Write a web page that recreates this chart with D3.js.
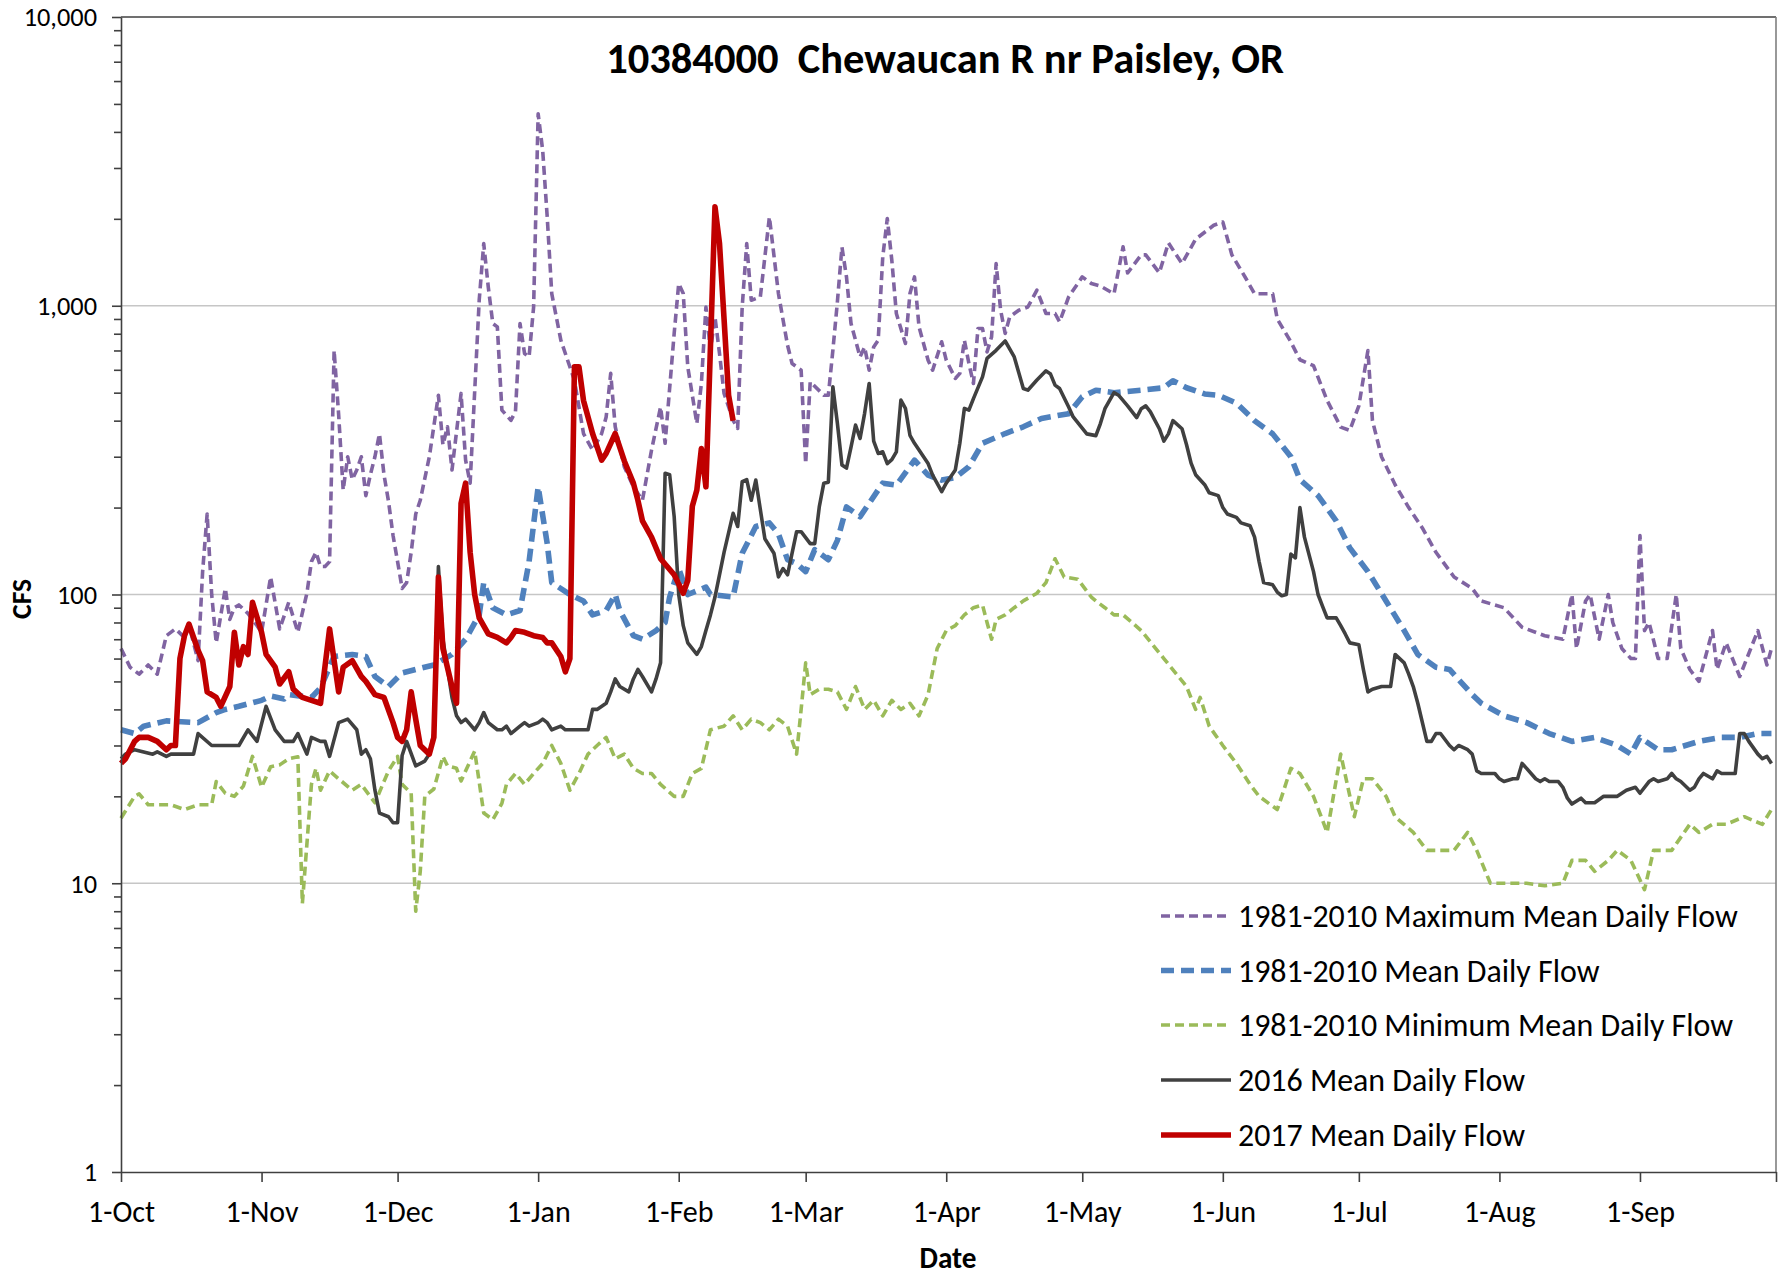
<!DOCTYPE html>
<html>
<head>
<meta charset="utf-8">
<title>10384000 Chewaucan R nr Paisley, OR</title>
<script src="https://cdn.jsdelivr.net/npm/d3@7/dist/d3.min.js"></script>
<style>
  html, body { margin: 0; padding: 0; background: #fff; }
  svg { display: block; }
  text { font-family: Carlito, Calibri, Lato, "Noto Sans", sans-serif; fill: #000; }
</style>
</head>
<body>
<svg id="chart" width="1788" height="1276"></svg>
<script>
// Daily flow, cfs. Each point is [day of water year (0 = 1-Oct), cfs].
const maxMeanDaily = [[0,65],[2,56],[4,53],[6,57],[8,53],[10,72],[12,76],[14,71],[15,78],[16,68],[17,59],[18,120],[19,190],[20,100],[21,68],[23,105],[24,82],[25,90],[26,92],[28,86],[30,78],[31,74],[33,115],[35,76],[37,94],[39,74],[41,101],[42,130],[43,140],[44,125],[45,125],[46,130],[47,700],[48,420],[49,230],[50,300],[51,250],[52,270],[53,300],[54,220],[55,260],[56,300],[57,360],[58,260],[59,210],[60,160],[61,130],[62,105],[63,110],[64,140],[65,190],[66,212],[68,300],[70,490],[71,330],[72,381],[73,270],[75,497],[76,292],[77,243],[79,1045],[80,1641],[81,1161],[82,868],[83,845],[84,435],[86,401],[87,430],[88,868],[89,683],[90,665],[91,990],[92,4624],[93,3451],[94,2030],[95,1102],[97,760],[100,552],[102,361],[104,316],[106,361],[107,412],[108,583],[109,381],[111,277],[113,236],[115,212],[117,316],[119,446],[120,334],[122,802],[123,1194],[124,1102],[125,614],[127,391],[128,538],[129,990],[130,700],[131,915],[132,683],[133,497],[135,401],[136,376],[137,990],[138,1641],[139,1045],[141,1073],[143,2030],[145,1100],[147,730],[148,631],[150,598],[151,284],[152,545],[155,490],[156,490],[157,701],[158,1033],[159,1597],[160,1259],[161,868],[163,665],[164,720],[165,598],[166,720],[167,760],[168,1476],[169,2004],[170,1437],[171,940],[173,740],[174,1102],[175,1259],[176,845],[178,648],[179,598],[181,750],[182,648],[184,560],[185,583],[186,760],[187,631],[188,538],[189,834],[190,834],[191,692],[192,780],[193,1400],[194,965],[195,802],[196,915],[198,965],[200,990],[202,1132],[204,940],[206,940],[207,879],[209,1073],[212,1259],[214,1194],[216,1170],[219,1100],[221,1600],[222,1300],[225,1500],[226,1500],[229,1300],[231,1650],[234,1400],[237,1700],[241,1900],[243,1950],[245,1500],[248,1250],[250,1100],[254,1100],[255,900],[258,750],[260,650],[263,620],[266,470],[269,380],[271,370],[273,450],[275,700],[276,400],[278,300],[281,240],[284,200],[287,170],[290,140],[294,115],[298,105],[300,95],[305,90],[309,77],[314,72],[318,70],[320,100],[321,65],[323,95],[324,100],[326,70],[328,100],[329,80],[331,65],[333,60],[334,60],[335,160],[336,75],[337,80],[339,60],[341,60],[343,100],[344,65],[346,55],[348,50],[351,75],[352,55],[354,68],[357,52],[361,75],[363,57],[364,65]];

const meanDaily = [[0,34],[3,33],[5,35],[10,36.5],[17,36],[21,39],[23,40],[26,41],[31,43],[33,44.5],[36,43.5],[37,45],[42,44],[44,47.5],[47,61],[51,62],[54,61],[56,52],[59,48],[62,53.5],[65,55],[69,57],[73,62],[76,70],[79,85],[80,110],[82,90],[85,85],[88,88],[90,130],[92,236],[94,150],[95,110],[99,100],[102,95],[104,85],[107,88],[109,100],[110,88],[113,72],[115,70],[118,75],[120,80],[121,98],[123,123],[125,100],[129,106],[130,100],[135,98],[137,139],[140,172],[143,177],[145,162],[147,132],[149,128],[151,120],[153,143],[156,132],[158,154],[160,201],[163,186],[168,243],[171,239],[175,292],[178,259],[181,249],[184,254],[187,277],[190,334],[195,361],[199,381],[203,407],[209,423],[212,484],[215,510],[219,500],[225,510],[230,520],[232,550],[235,520],[239,495],[242,490],[246,460],[250,400],[254,360],[258,300],[260,250],[264,220],[268,180],[271,145],[275,120],[279,95],[283,75],[286,62],[290,56],[293,55],[298,45],[300,42],[305,38],[310,36],[315,33],[320,31],[325,32],[330,30],[333,28],[335,32],[339,29],[342,29],[348,31],[353,32],[357,32],[361,33],[364,33]];

const minMeanDaily = [[0,16.8],[3,20],[4,20.4],[6,18.7],[11,18.7],[14,18],[17,18.7],[20,18.7],[21,22.5],[23,20.5],[25,20],[27,21.7],[29,27.5],[31,21.5],[33,25.3],[35,25.7],[37,27],[39,27.4],[40,8.5],[42,22],[43,25],[44,21],[46,24.5],[48,23],[51,21],[53,22],[56,19],[59,24.5],[61,27.5],[62,22],[64,20.5],[65,8],[66,11],[67,20],[69,21.2],[71,27.5],[72,25.5],[74,25],[75,22.6],[78,28.7],[80,17.5],[82,16.6],[84,18.9],[85,22],[87,24],[89,22],[91,24],[93,26],[95,30],[97,26],[99,21],[101,24],[103,28],[105,30],[107,32],[109,27],[111,28],[113,25],[115,24],[117,24],[119,22],[122,20],[124,20],[126,24],[128,25],[130,34],[133,35],[135,38],[137,34],[139,37],[141,36],[143,34],[145,37],[147,35],[149,28],[150,40],[151,58],[152,45],[154,47],[156,47],[158,46],[160,40],[162,48],[164,40],[166,43],[168,38],[170,43],[172,40],[174,42],[176,38],[178,45],[180,65],[182,75],[184,78],[186,85],[188,90],[190,92],[191,80],[192,70],[193,82],[195,85],[197,90],[199,95],[202,101],[204,110],[206,133],[208,115],[211,113],[214,98],[215,95],[217,90],[219,85],[221,85],[223,80],[225,75],[230,60],[235,48],[237,40],[238,44],[240,35],[243,30],[246,26],[249,22],[251,20],[255,18],[256,20],[258,25],[260,24],[263,20],[266,15],[269,28],[272,17],[274,23],[276,23],[279,20],[281,17],[285,15],[288,13],[291,13],[294,13],[297,15],[299,13],[302,10],[305,10],[310,10],[314,9.8],[318,10],[320,12],[323,12],[325,11],[328,12],[330,13],[333,12],[336,9.5],[338,13],[342,13],[346,16],[348,15],[351,16],[354,16],[358,17],[362,16],[364,18]];

const flow2016 = [[0,27],[1,28],[3,29],[5,28.5],[7,28],[8,28.5],[10,27.5],[11,28],[16,28],[17,33],[20,30],[26,30],[28,34],[30,31],[32,41],[34,34],[36,31],[38,31],[39,33],[41,28],[42,32],[44,31],[45,31],[46,27.5],[48,36],[50,37],[52,34],[53,28],[54,29],[55,27],[56,21],[57,17.5],[59,17],[60,16.2],[61,16.2],[62,27.7],[63,31],[65,25.5],[67,26.5],[68,28],[69,33],[70,125],[71,70],[73,44],[74,38],[75,36],[76,37],[78,34],[79,36],[80,39],[81,36],[83,34],[84,34],[85,35],[86,33],[88,35],[89,36],[90,35],[92,36],[93,37],[94,36],[95,34],[97,35],[98,34],[100,34],[103,34],[104,40],[105,40],[107,42],[108,46],[109,51],[110,48],[112,46],[113,51],[114,55],[115,52],[117,46],[118,51],[119,58],[120,263],[121,260],[122,186],[123,100],[124,78],[125,68],[127,62],[128,66],[129,75],[130,85],[131,98],[133,140],[135,191],[136,172],[137,246],[138,250],[139,212],[140,249],[142,156],[144,139],[145,115],[146,123],[147,117],[149,165],[150,165],[152,150],[153,150],[154,201],[155,243],[156,245],[157,524],[158,391],[159,281],[160,274],[161,324],[162,386],[163,347],[164,424],[165,538],[166,340],[167,308],[168,312],[169,284],[170,293],[171,312],[172,471],[173,441],[174,356],[175,334],[178,284],[179,259],[181,227],[182,243],[184,270],[185,334],[186,441],[187,435],[188,477],[190,567],[191,657],[193,701],[195,755],[197,665],[199,517],[200,510],[202,553],[204,595],[205,580],[206,531],[207,517],[209,446],[210,412],[213,360],[215,355],[216,391],[217,440],[219,500],[220,490],[222,450],[224,410],[225,440],[226,450],[227,430],[229,375],[230,340],[231,360],[232,400],[234,375],[235,330],[236,285],[237,260],[239,240],[240,225],[242,220],[243,200],[244,190],[246,185],[247,177],[249,173],[250,158],[251,130],[252,110],[254,108],[255,102],[256,99],[257,100],[258,138],[259,134],[260,200],[261,158],[263,120],[264,100],[265,91],[266,83],[268,83],[269,78],[270,73],[271,68],[273,67],[274,55],[275,46],[276,47],[278,48],[280,48],[281,62],[283,58],[284,53],[285,48],[286,42],[288,31],[289,31],[290,33],[291,33],[293,30],[294,29],[295,30],[297,29],[298,28],[299,24.5],[300,24],[302,24],[303,24],[304,23],[305,22.5],[307,23],[308,23],[309,26],[310,25],[312,23],[313,22.5],[314,23],[315,22.5],[317,22.5],[318,21.5],[319,19.7],[320,18.8],[322,19.7],[323,19],[325,19],[327,20],[330,20],[332,21],[334,21.5],[335,20.5],[337,22.5],[338,23],[339,22.5],[341,23],[342,24],[343,23],[344,22.5],[346,21],[347,21.5],[348,23],[349,24],[351,23],[352,24.5],[353,24],[356,24],[357,33],[358,33],[359,31],[361,28],[362,27],[363,27.5],[364,26]];

const flow2017 = [[0,26],[1,27],[3,31],[4,32],[6,32],[8,31],[10,29],[11,30],[12,30],[13,60],[14,72],[15,79],[17,64],[18,59],[19,46],[21,44],[22,41],[24,48],[25,74],[26,57],[27,66],[28,62],[29,94],[31,74],[32,62],[34,56],[35,49],[37,54],[38,47],[40,44],[42,43],[44,42],[46,76],[48,46],[49,56],[51,59],[53,52],[54,50],[56,45],[58,44],[60,36],[61,32],[62,31],[63,34],[64,46],[65,37],[66,30],[68,28],[69,32],[70,115],[71,65],[73,48],[74,42],[75,207],[76,243],[77,140],[78,100],[79,83],[81,73],[83,71],[85,68],[86,71],[87,75],[89,74],[91,72],[93,71],[94,68],[95,68],[97,61],[98,54],[99,60],[100,614],[101,614],[102,470],[104,361],[106,292],[107,308],[109,361],[111,290],[113,243],[114,212],[115,180],[117,158],[119,133],[122,117],[124,101],[125,112],[126,202],[127,230],[128,320],[129,236],[131,2200],[132,1640],[133,900],[134,490],[135,400]];

const seriesNames = ["1981-2010 Maximum Mean Daily Flow", "1981-2010 Mean Daily Flow", "1981-2010 Minimum Mean Daily Flow", "2016 Mean Daily Flow", "2017 Mean Daily Flow"];
const yTickValues = [1, 10, 100, 1000, 10000];
const monthLabels = ["1-Oct", "1-Nov", "1-Dec", "1-Jan", "1-Feb", "1-Mar", "1-Apr", "1-May", "1-Jun", "1-Jul", "1-Aug", "1-Sep"];
const chartTitle = "10384000  Chewaucan R nr Paisley, OR";

// ---- layout and styles ----
const FONT = 'Carlito, Calibri, Lato, "Noto Sans", sans-serif';
const plot = { left: 121, right: 1776, top: 17, bottom: 1172 };
const styles = [
  { color: "#8064A2", width: 3.6, dash: "9,5" },
  { color: "#4F81BD", width: 5.6, dash: "13,7" },
  { color: "#9BBB59", width: 3.6, dash: "9,5" },
  { color: "#404040", width: 3.6, dash: null },
  { color: "#C00000", width: 5.6, dash: null }
];
const seriesData = [maxMeanDaily, meanDaily, minMeanDaily, flow2016, flow2017];

const svg = d3.select("#chart");

// font size that makes a string span a given width
function sizeFor(str, targetWidth, weight) {
  const t = svg.append("text").attr("font-family", FONT).attr("font-weight", weight || "normal")
    .style("white-space", "pre").attr("font-size", 100).text(str);
  const w = t.node().getComputedTextLength();
  t.remove();
  return 100 * targetWidth / w;
}

const startMs = Date.UTC(2016, 9, 1);
const dayToDate = d => new Date(startMs + d * 864e5);
const x = d3.scaleUtc().domain([dayToDate(0), dayToDate(365)]).range([plot.left, plot.right]);
const y = d3.scaleLog().domain([1, 10000]).range([plot.bottom, plot.top]);

// horizontal gridlines
svg.append("g").selectAll("line").data([10, 100, 1000]).join("line")
  .attr("x1", plot.left).attr("x2", plot.right)
  .attr("y1", d => y(d)).attr("y2", d => y(d))
  .attr("stroke", "#c6c6c6").attr("stroke-width", 1.6);

// frame: top and right edges
svg.append("line").attr("x1", plot.left).attr("x2", plot.right).attr("y1", plot.top).attr("y2", plot.top)
  .attr("stroke", "#404040").attr("stroke-width", 1.6);
svg.append("line").attr("x1", plot.right).attr("x2", plot.right).attr("y1", plot.top).attr("y2", plot.bottom)
  .attr("stroke", "#7f7f7f").attr("stroke-width", 1.6);

// series lines
const line = d3.line().x(d => x(dayToDate(d[0]))).y(d => y(d[1]));
const gLines = svg.append("g");
seriesData.forEach((data, i) => {
  const s = styles[i];
  gLines.append("path").datum(data)
    .attr("d", line)
    .attr("fill", "none")
    .attr("stroke", s.color)
    .attr("stroke-width", s.width)
    .attr("stroke-linejoin", "round")
    .attr("stroke-dasharray", s.dash);
});

// y axis with major and minor ticks
const yLabelSize = sizeFor("1,000", 60);
const yAxis = svg.append("g").attr("transform", `translate(${plot.left},0)`)
  .call(d3.axisLeft(y).tickValues(yTickValues).tickSize(9).tickSizeOuter(0).tickPadding(15)
    .tickFormat(d3.format(",")));
const minorTicks = [];
[1, 10, 100, 1000].forEach(b => { for (let k = 2; k <= 9; k++) minorTicks.push(b * k); });
svg.append("g").attr("transform", `translate(${plot.left},0)`)
  .call(d3.axisLeft(y).tickValues(minorTicks).tickSize(7).tickSizeOuter(0).tickFormat(""))
  .call(g => g.select(".domain").remove());

// x axis with a tick at the start of each month
const monthTicks = d3.utcMonth.range(dayToDate(0), dayToDate(366));
const xLabelSize = sizeFor("1-Oct", 67);
const xAxis = svg.append("g").attr("transform", `translate(0,${plot.bottom})`)
  .call(d3.axisBottom(x).tickValues(monthTicks).tickSize(10).tickSizeOuter(0).tickPadding(19)
    .tickFormat((d, i) => monthLabels[i] || ""));

svg.selectAll(".tick line, .domain").attr("stroke", "#404040").attr("stroke-width", 1.6);
yAxis.selectAll("text").attr("font-family", FONT).attr("font-size", yLabelSize).attr("fill", "#000")
  .attr("dy", "0.34em");
xAxis.selectAll("text").attr("font-family", FONT).attr("font-size", xLabelSize).attr("fill", "#000");

// titles
svg.append("text").attr("x", 945).attr("y", 73).attr("text-anchor", "middle")
  .attr("xml:space", "preserve").style("white-space", "pre")
  .attr("font-weight", "bold").attr("font-size", sizeFor(chartTitle, 678, "bold")).text(chartTitle);
svg.append("text").attr("x", 948).attr("y", 1258).attr("dy", "0.35em").attr("text-anchor", "middle")
  .attr("font-weight", "bold").attr("font-size", sizeFor("Date", 57, "bold")).text("Date");
svg.append("text").attr("transform", "translate(21,599) rotate(-90)").attr("dy", "0.35em")
  .attr("text-anchor", "middle").attr("font-weight", "bold")
  .attr("font-size", sizeFor("CFS", 40, "bold")).text("CFS");

// legend
const legendSize = sizeFor(seriesNames[0], 500);
const legendRows = [916, 970.5, 1025, 1080, 1135];
const legend = svg.append("g");
seriesNames.forEach((name, i) => {
  const s = styles[i];
  legend.append("line").attr("x1", 1161).attr("x2", 1231)
    .attr("y1", legendRows[i]).attr("y2", legendRows[i])
    .attr("stroke", s.color).attr("stroke-width", s.width).attr("stroke-dasharray", s.dash);
  legend.append("text").attr("x", 1238).attr("y", legendRows[i]).attr("dy", "0.35em")
    .attr("font-size", legendSize).text(name);
});
</script>
</body>
</html>
